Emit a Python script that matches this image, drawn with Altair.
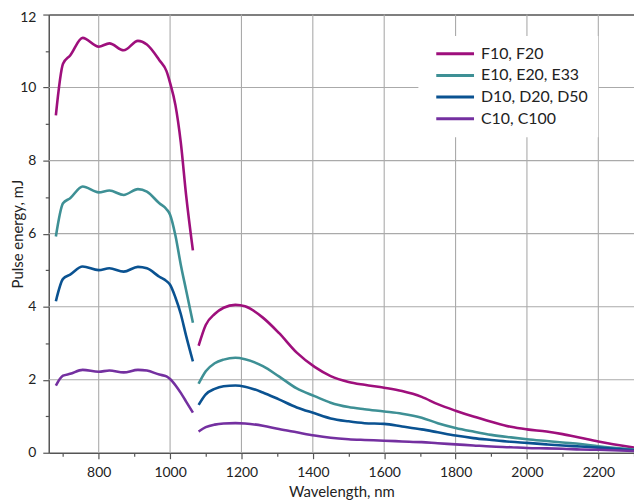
import altair as alt
import pandas as pd

# ---- data ----
series = ["F10, F20", "E10, E20, E33", "D10, D20, D50", "C10, C100"]
colors = ["#9E0F7C", "#3E9095", "#0A5291", "#7430A0"]

wl_seg1 = [680, 700, 720, 755, 800, 830, 870, 910, 935, 970, 990, 1000, 1015, 1030, 1045, 1064]
wl_seg2 = [1080, 1100, 1125, 1150, 1183, 1210, 1260, 1305, 1355, 1405, 1450, 1500, 1545,
           1600, 1650, 1705, 1750, 1800, 1850, 1900, 1955, 2000, 2055, 2100, 2150, 2200, 2300]

F_seg1 = [9.24, 10.65, 10.88, 11.36, 11.12, 11.21, 11.02, 11.28, 11.18, 10.75, 10.45, 10.13, 9.52, 8.50, 7.05, 5.54]
E_seg1 = [5.92, 6.83, 6.97, 7.29, 7.13, 7.18, 7.06, 7.22, 7.15, 6.83, 6.67, 6.52, 5.95, 5.15, 4.45, 3.56]
D_seg1 = [4.15, 4.76, 4.88, 5.10, 5.00, 5.05, 4.96, 5.09, 5.05, 4.82, 4.70, 4.60, 4.25, 3.80, 3.20, 2.50]
C_seg1 = [1.84, 2.11, 2.16, 2.27, 2.22, 2.25, 2.20, 2.27, 2.25, 2.14, 2.09, 2.02, 1.85, 1.64, 1.40, 1.10]

F_seg2 = [2.93, 3.50, 3.80, 3.97, 4.05, 4.01, 3.70, 3.28, 2.74, 2.35, 2.10, 1.94, 1.86,
          1.78, 1.69, 1.53, 1.33, 1.15, 0.99, 0.85, 0.71, 0.64, 0.58, 0.51, 0.41, 0.31, 0.14]
E_seg2 = [1.89, 2.23, 2.45, 2.55, 2.60, 2.56, 2.37, 2.09, 1.76, 1.55, 1.37, 1.25, 1.19,
          1.13, 1.07, 0.96, 0.81, 0.68, 0.58, 0.49, 0.42, 0.37, 0.32, 0.28, 0.24, 0.18, 0.09]
D_seg2 = [1.31, 1.60, 1.75, 1.82, 1.84, 1.81, 1.65, 1.46, 1.24, 1.08, 0.94, 0.86, 0.81,
          0.79, 0.72, 0.64, 0.56, 0.47, 0.40, 0.35, 0.30, 0.27, 0.23, 0.20, 0.17, 0.14, 0.07]
C_seg2 = [0.58, 0.70, 0.77, 0.80, 0.81, 0.80, 0.74, 0.65, 0.56, 0.47, 0.41, 0.37, 0.35,
          0.33, 0.31, 0.29, 0.26, 0.23, 0.20, 0.17, 0.15, 0.13, 0.12, 0.11, 0.09, 0.08, 0.05]

x_domain = [660, 2300]
y_domain = [0, 12]
x_major = [800, 1000, 1200, 1400, 1600, 1800, 2000, 2200]
x_minor = [700, 900, 1100, 1300, 1500, 1700, 1900, 2100, 2300]
y_major = [0, 2, 4, 6, 8, 10, 12]
y_minor = [1, 3, 5, 7, 9, 11]

# ---- build tables ----
rows = []
seg1 = [F_seg1, E_seg1, D_seg1, C_seg1]
seg2 = [F_seg2, E_seg2, D_seg2, C_seg2]
for name, s1, s2 in zip(series, seg1, seg2):
    for w, v in zip(wl_seg1, s1):
        rows.append({"series": name, "seg": name + "-1", "wl": w, "e": v})
    for w, v in zip(wl_seg2, s2):
        rows.append({"series": name, "seg": name + "-2", "wl": w, "e": v})
df = pd.DataFrame(rows)

grid_x_df = pd.DataFrame({"v": x_major})
grid_y_df = pd.DataFrame({"v": [v for v in y_major if y_domain[0] < v < y_domain[1]]})

FONT = "Lato"
AXIS_COL = "#555555"
GRID_COL = "#aaaaaa"
TXT = "#222222"

x_scale = alt.Scale(domain=x_domain, nice=False, zero=False)
y_scale = alt.Scale(domain=y_domain, nice=False)

grid_x = alt.Chart(grid_x_df).mark_rule(color=GRID_COL, strokeWidth=1.1).encode(
    x=alt.X("v:Q", scale=x_scale, axis=None),
    y=alt.YDatum(y_domain[0], scale=y_scale, axis=None),
    y2=alt.Y2Datum(y_domain[1]),
)
grid_y = alt.Chart(grid_y_df).mark_rule(color=GRID_COL, strokeWidth=1.1).encode(
    y=alt.Y("v:Q", scale=y_scale, axis=None),
    x=alt.XDatum(x_domain[0], scale=x_scale, axis=None),
    x2=alt.X2Datum(x_domain[1]),
)

lines = alt.Chart(df).mark_line(interpolate="monotone", strokeWidth=2.6).encode(
    x=alt.X("wl:Q", scale=x_scale, title="Wavelength, nm",
            axis=alt.Axis(orient="bottom", values=x_major, format="d",
                          labelOverlap=False, labelFlush=False, grid=False,
                          tickSize=6, labelPadding=7,
                          titleBaseline="top", titleY=32)),
    y=alt.Y("e:Q", scale=y_scale, title="Pulse energy, mJ",
            axis=alt.Axis(orient="left", values=y_major,
                          labelOverlap=False, labelFlush=False, grid=False,
                          tickSize=6, labelPadding=7,
                          labelOffset={"condition": {"test": "datum.value == 12", "value": 3}, "value": 0},
                          titleX=-23, titleY=220.5, titleBaseline="bottom", titleAngle=270)),
    color=alt.Color("series:N", scale=alt.Scale(domain=series, range=colors),
                    legend=alt.Legend(orient="none", legendX=372, legendY=21.5, title=None,
                                      symbolType="M0,0H7.6", symbolSize=100,
                                      symbolStrokeWidth=3, labelFontSize=16, labelFont=FONT,
                                      labelColor=TXT, fillColor="white", padding=10,
                                      rowPadding=5.8, labelOffset=37)),
    detail="seg:N",
)

minor = alt.Chart(df).mark_point(opacity=0).encode(
    x=alt.X("wl:Q", scale=x_scale,
            axis=alt.Axis(orient="bottom", values=x_minor, labels=False, grid=False,
                          domain=False, tickSize=3.5, title=None)),
    y=alt.Y("e:Q", scale=y_scale,
            axis=alt.Axis(orient="left", values=y_minor, labels=False, grid=False,
                          domain=False, tickSize=3.5, title=None)),
)

top_border = alt.Chart(df).mark_point(opacity=0).encode(
    x=alt.X("wl:Q", scale=x_scale,
            axis=alt.Axis(orient="top", labels=False, ticks=False, grid=False, title=None,
                          domain=True)),
)

chart = alt.layer(grid_x, grid_y, lines, minor, top_border).resolve_axis(
    x="independent", y="independent"
).properties(
    width=589, height=441,
    padding={"left": 41, "top": 5, "right": 0, "bottom": 50},
    autosize=alt.AutoSizeParams(type="none"),
).configure_view(stroke=None).configure_axis(
    domainColor=AXIS_COL, domainWidth=1.5, tickColor=AXIS_COL, tickWidth=1.2,
    labelFont=FONT, labelFontSize=14, labelColor=TXT,
    titleFont=FONT, titleFontSize=15, titleFontWeight="normal", titleColor=TXT,
)

chart.save("out.html", embed_options={"renderer": "svg", "actions": False})
